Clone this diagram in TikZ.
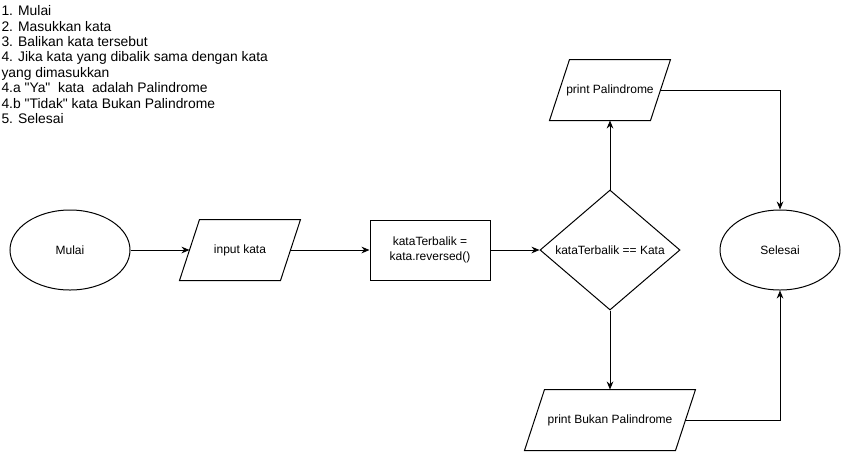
\documentclass[tikz,border=0pt]{standalone}
\usepackage{fontspec}
\setmainfont{Liberation Sans}[Ligatures=TeXOff]
\usetikzlibrary{shapes.geometric,arrows.meta}
\begin{document}
\begin{tikzpicture}[x=0.75pt,y=-0.75pt,
  line width=0.75pt,
  every node/.style={font=\fontsize{9pt}{10.8pt}\selectfont},
  term/.style={ellipse,draw,minimum width=90pt,minimum height=60pt,inner sep=0pt},
  procbox/.style={rectangle,draw,minimum width=90pt,minimum height=45pt,inner sep=0pt,align=center},
  iobox/.style={rectangle,minimum height=45pt,inner sep=0pt},
  decbox/.style={diamond,draw,minimum width=105pt,minimum height=90pt,inner sep=0pt},
  flow/.style={-{Stealth[length=6pt,width=5pt]}}
]
\useasboundingbox (0,0) rectangle (841,451);

\node[anchor=north west,inner sep=0pt,align=left,font=\fontsize{10.4pt}{11.6pt}\selectfont] (list) at (1,5)
{1. Mulai\\2. Masukkan kata\\3. Balikan kata tersebut\\4. Jika kata yang dibalik sama dengan kata\\yang dimasukkan\\4.a "Ya"\ \ kata\ \ adalah Palindrome\\4.b "Tidak" kata Bukan Palindrome\\5. Selesai};

\node[term] (mulai) at (70,250) {Mulai};
\node[iobox,minimum width=75pt] (input) at (240,250) {input kata};
\draw ([xshift=7.5pt]input.north west) -- ([xshift=7.5pt]input.north east) -- ([xshift=-7.5pt]input.south east) -- ([xshift=-7.5pt]input.south west) -- cycle;
\node[procbox] (rev) at (430,250) {kataTerbalik =\\kata.reversed()};
\node[decbox] (dec) at (610,250) {};
\node (dectext) at (dec.center) {kataTerbalik == Kata};
\node[iobox,minimum width=75pt] (pp) at (610,90) {print Palindrome};
\draw ([xshift=7.5pt]pp.north west) -- ([xshift=7.5pt]pp.north east) -- ([xshift=-7.5pt]pp.south east) -- ([xshift=-7.5pt]pp.south west) -- cycle;
\node[iobox,minimum width=112.5pt] (pb) at (610,420) {print Bukan Palindrome};
\draw ([xshift=7.5pt]pb.north west) -- ([xshift=7.5pt]pb.north east) -- ([xshift=-7.5pt]pb.south east) -- ([xshift=-7.5pt]pb.south west) -- cycle;
\node[term] (sel) at (780,250) {Selesai};

\draw[flow] (mulai.east) -- (input.west);
\draw[flow] (input.east) -- (rev.west);
\draw[flow] (rev.east) -- (dec.west);
\draw[flow] (dec.north) -- (pp.south);
\draw[flow] (dec.south) -- (pb.north);
\draw[flow] (pp.east) -| (sel.north);
\draw[flow] (pb.east) -| (sel.south);
\end{tikzpicture}
\end{document}
